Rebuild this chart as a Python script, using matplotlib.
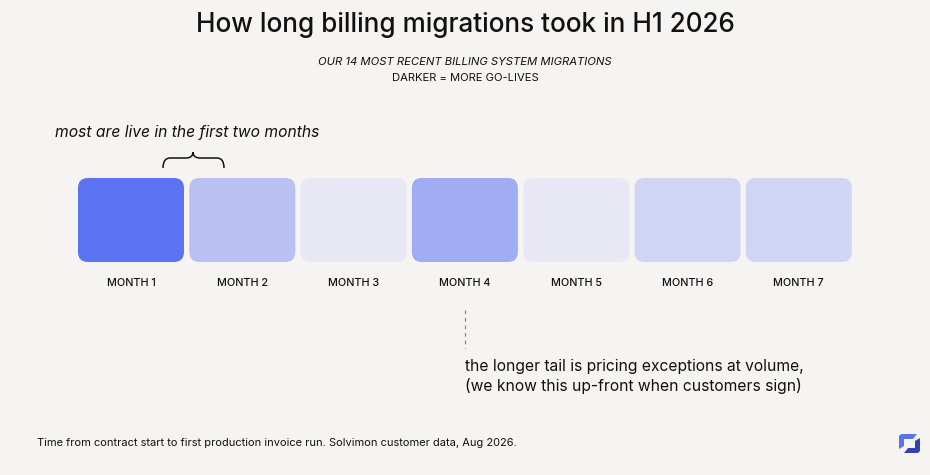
import matplotlib
matplotlib.use("Agg")
import matplotlib.pyplot as plt
from matplotlib.patches import FancyBboxPatch, Polygon, PathPatch
from matplotlib.path import Path
from matplotlib.colors import LinearSegmentedColormap, Normalize
from matplotlib.transforms import blended_transform_factory

# data
months = ["MONTH 1", "MONTH 2", "MONTH 3", "MONTH 4", "MONTH 5", "MONTH 6", "MONTH 7"]
go_lives = [6, 2, 0, 3, 0, 1, 1]

title = "How long billing migrations took in H1 2026"
subtitle = ["OUR 14 MOST RECENT BILLING SYSTEM MIGRATIONS", "DARKER = MORE GO-LIVES"]
note_top = "most are live in the first two months"
note_tail = ["the longer tail is pricing exceptions at volume,",
             "(we know this up-front when customers sign)"]
footer = "Time from contract start to first production invoice run. Solvimon customer data, Aug 2026."

BG = "#f5f4f2"
INK = "#111111"
FONT = "Inter"

fig = plt.figure(figsize=(9.3, 4.75), dpi=100, facecolor=BG)
W, H = 930, 475

# overlay in pixel coords for text / decorations
ov = fig.add_axes([0, 0, 1, 1])
ov.set_xlim(0, W)
ov.set_ylim(H, 0)
ov.axis("off")
ov.patch.set_alpha(0)

# tile axes, one unit per month, equal aspect
unit = 111.3
left = 131 - unit / 2
ax_top, ax_bot = 170, 270
ax = fig.add_axes([left / W, (H - ax_bot) / H, 7 * unit / W, (ax_bot - ax_top) / H])
ax.set_xlim(0.5, 7.5)
ax.set_ylim(0, (ax_bot - ax_top) / unit)
ax.patch.set_alpha(0)
for s in ax.spines.values():
    s.set_visible(False)
ax.set_yticks([])

cmap = LinearSegmentedColormap.from_list("golive", ["#e8e8f4", "#5b73f2"])
norm = Normalize(0, max(go_lives))

tile_w = 106 / unit
tile_h = 84 / unit
y0 = (ax_bot - 262) / unit
for i, n in enumerate(go_lives):
    x = i + 1
    ax.add_patch(FancyBboxPatch((x - tile_w / 2, y0), tile_w, tile_h,
                                boxstyle=f"round,pad=0,rounding_size={10 / unit}",
                                fc=cmap(norm(n)), ec="none"))

ax.set_xticks(range(1, len(months) + 1), months)
ax.tick_params(axis="x", length=0, pad=6, labelsize=7.8, labelcolor=INK)
for lbl in ax.get_xticklabels():
    lbl.set_fontfamily(FONT)
    lbl.set_fontweight("medium")

renderer = fig.canvas.get_renderer()


def fit(t, width):
    bb = t.get_window_extent(renderer)
    t.set_fontsize(t.get_fontsize() * width / bb.width)
    return t


# titles
fit(ov.text(465, 25, title, ha="center", va="center", fontsize=20, family=FONT,
            weight="medium", color=INK), 538)
fit(ov.text(465, 62, subtitle[0], ha="center", va="center", fontsize=8, family=FONT,
            style="italic", color=INK), 294)
fit(ov.text(465, 78, subtitle[1], ha="center", va="center", fontsize=8, family=FONT, color=INK), 147)

# top note + brace
fit(ov.text(55, 133, note_top, ha="left", va="center", fontsize=11, family=FONT,
            style="italic", color=INK), 264)

brace = Path([(163, 168), (163, 158), (170, 158), (186, 158), (193, 158), (193, 152),
              (193, 158), (200, 158), (217, 158), (224, 158), (224, 168)],
             [Path.MOVETO, Path.CURVE3, Path.CURVE3, Path.LINETO, Path.CURVE3, Path.CURVE3,
              Path.CURVE3, Path.CURVE3, Path.LINETO, Path.CURVE3, Path.CURVE3])
ov.add_patch(PathPatch(brace, fc="none", ec=INK, lw=1.1))

# tail callout under month 4
tr = blended_transform_factory(ax.transData, ov.transData)
ov.plot([4, 4], [310, 348], transform=tr, color="#888888", lw=0.9, ls=(0, (3, 3)), clip_on=False)
for k, line in enumerate(note_tail):
    t = ov.text(4, 366 + 20 * k, line, transform=tr, ha="left", va="center",
                fontsize=11, family=FONT, color=INK)
    if k == 0:
        fit(t, 336)
        fs = t.get_fontsize()
    else:
        t.set_fontsize(fs)

# footer
fit(ov.text(37, 443, footer, ha="left", va="center", fontsize=8, family=FONT, color=INK), 482)

# logo
ov.add_patch(Polygon([(901, 434), (917, 434), (913, 439), (904, 439), (904, 446),
                      (899, 449), (899, 436)], closed=True, fc="#5b74e4", ec="none"))
ov.add_patch(Polygon([(904, 453), (918, 453), (920, 451), (920, 438), (915, 441),
                      (915, 448), (908, 448)], closed=True, fc="#3344b0", ec="none"))

fig.savefig("out.png", dpi=100, facecolor=BG)
